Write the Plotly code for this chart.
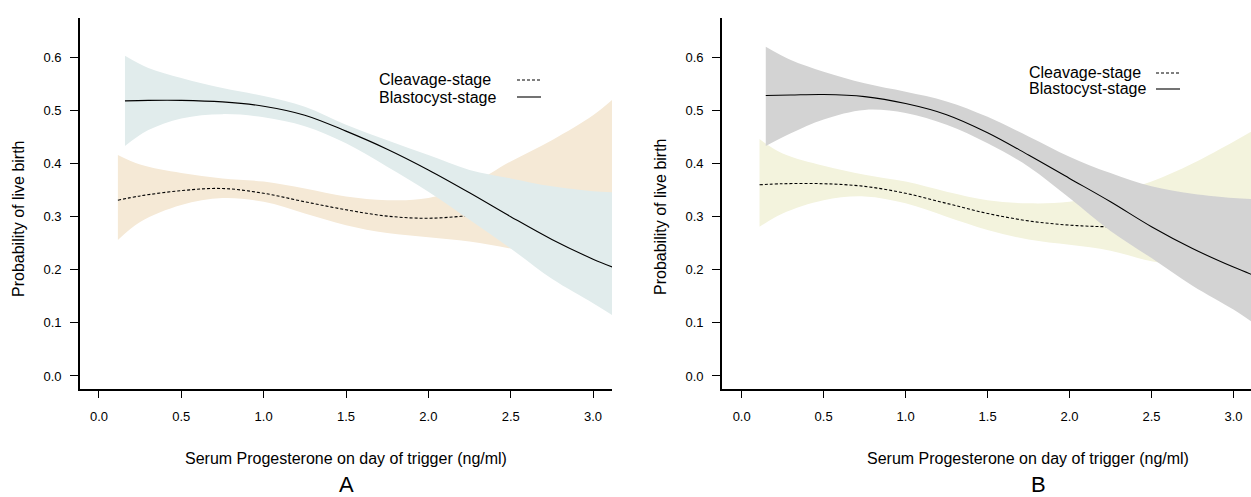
import plotly.graph_objects as go

W, H = 1251, 497

# ---------------- data ----------------
# Panel A
xA_cl = [0.115, 0.25, 0.5, 0.75, 1.0, 1.25, 1.5, 1.75, 2.0, 2.25, 2.5, 2.75, 3.0, 3.12]
cl_A = [0.331, 0.339, 0.349, 0.353, 0.344, 0.328, 0.313, 0.301, 0.297, 0.302, 0.31, 0.318, 0.326, 0.33]
cl_A_hi = [0.416, 0.398, 0.382, 0.372, 0.366, 0.353, 0.338, 0.331, 0.335, 0.360, 0.404, 0.444, 0.491, 0.521]
cl_A_lo = [0.256, 0.290, 0.322, 0.335, 0.328, 0.306, 0.284, 0.269, 0.261, 0.253, 0.240, 0.228, 0.215, 0.21]

xA_bl = [0.158, 0.3, 0.5, 0.75, 1.0, 1.25, 1.5, 1.75, 2.0, 2.25, 2.5, 2.75, 3.0, 3.12]
bl_A = [0.518, 0.519, 0.519, 0.516, 0.508, 0.491, 0.461, 0.427, 0.388, 0.345, 0.300, 0.257, 0.220, 0.205]
bl_A_hi = [0.603, 0.580, 0.561, 0.542, 0.527, 0.507, 0.473, 0.444, 0.416, 0.388, 0.372, 0.357, 0.348, 0.346]
bl_A_lo = [0.433, 0.463, 0.485, 0.493, 0.487, 0.470, 0.438, 0.394, 0.347, 0.294, 0.240, 0.183, 0.137, 0.114]

# Panel B
xB_cl = [0.109, 0.25, 0.5, 0.75, 1.0, 1.25, 1.5, 1.75, 2.0, 2.25, 2.5, 2.75, 3.0, 3.12]
cl_B = [0.360, 0.362, 0.362, 0.357, 0.344, 0.325, 0.306, 0.292, 0.284, 0.281, 0.283, 0.287, 0.292, 0.295]
cl_B_hi = [0.446, 0.419, 0.396, 0.379, 0.366, 0.347, 0.331, 0.325, 0.328, 0.344, 0.366, 0.400, 0.441, 0.462]
cl_B_lo = [0.281, 0.306, 0.331, 0.338, 0.325, 0.300, 0.275, 0.257, 0.247, 0.236, 0.216, 0.205, 0.195, 0.19]

xB_bl = [0.147, 0.3, 0.5, 0.75, 1.0, 1.25, 1.5, 1.75, 2.0, 2.25, 2.5, 2.75, 3.0, 3.12]
bl_B = [0.528, 0.529, 0.530, 0.526, 0.513, 0.492, 0.458, 0.416, 0.372, 0.328, 0.281, 0.240, 0.205, 0.190]
bl_B_hi = [0.620, 0.595, 0.573, 0.551, 0.535, 0.517, 0.488, 0.451, 0.413, 0.382, 0.357, 0.343, 0.335, 0.333]
bl_B_lo = [0.433, 0.457, 0.483, 0.501, 0.495, 0.473, 0.438, 0.394, 0.335, 0.273, 0.222, 0.170, 0.125, 0.100]

y_ticks = [0.0, 0.1, 0.2, 0.3, 0.4, 0.5, 0.6]
x_ticks = [0.0, 0.5, 1.0, 1.5, 2.0, 2.5, 3.0]
series_names = ["Cleavage-stage", "Blastocyst-stage"]
x_title = "Serum Progesterone on day of trigger (ng/ml)"
y_title = "Probability of live birth"
panel_labels = ["A", "B"]

# ---------------- styling ----------------
FONT = "Liberation Sans, Arial, Helvetica, sans-serif"
colA_cl, colA_bl = "#f5e9d6", "#e1ecec"
colB_cl, colB_bl = "#f3f3dd", "#d3d3d3"
DASH = "3px,2px"

fig = go.Figure()


def add_band(x, lo, hi, color, xa, ya):
    fig.add_trace(go.Scatter(x=x, y=lo, mode="lines", line=dict(width=0, shape="spline", color=color),
                             xaxis=xa, yaxis=ya, showlegend=False, hoverinfo="skip"))
    fig.add_trace(go.Scatter(x=x, y=hi, mode="lines", line=dict(width=0, shape="spline", color=color),
                             fill="tonexty", fillcolor=color,
                             xaxis=xa, yaxis=ya, showlegend=False, hoverinfo="skip"))


def add_line(x, y, dash, xa, ya, name):
    fig.add_trace(go.Scatter(x=x, y=y, mode="lines", name=name,
                             line=dict(color="black", width=1.1, dash=dash, shape="spline"),
                             xaxis=xa, yaxis=ya, showlegend=False))


# Panel A
add_band(xA_cl, cl_A_lo, cl_A_hi, colA_cl, "x", "y")
add_line(xA_cl, cl_A, DASH, "x", "y", series_names[0])
add_band(xA_bl, bl_A_lo, bl_A_hi, colA_bl, "x", "y")
add_line(xA_bl, bl_A, "solid", "x", "y", series_names[1])

# Panel B
add_band(xB_cl, cl_B_lo, cl_B_hi, colB_cl, "x2", "y2")
add_line(xB_cl, cl_B, DASH, "x2", "y2", series_names[0])
add_band(xB_bl, bl_B_lo, bl_B_hi, colB_bl, "x2", "y2")
add_line(xB_bl, bl_B, "solid", "x2", "y2", series_names[1])


def px_x(p):
    return p / W


def px_y(p):
    return 1 - p / H


y_dom = [px_y(389), px_y(18)]
y_rng = [-0.0245, 0.674]

common_x = dict(tickvals=x_ticks, ticktext=[f"{v:.1f}" for v in x_ticks], ticks="outside", ticklen=7,
                tickwidth=1, tickcolor="black", showline=True, linecolor="black", linewidth=1.6,
                showgrid=False, zeroline=False, tickfont=dict(family=FONT, size=13, color="black"),
                ticklabelstandoff=8)
common_y = dict(tickvals=y_ticks, ticktext=[f"{v:.1f}" for v in y_ticks], ticks="outside", ticklen=8,
                tickwidth=1, tickcolor="black", showline=True, linecolor="black", linewidth=1.6,
                showgrid=False, zeroline=False, tickfont=dict(family=FONT, size=13, color="black"),
                range=y_rng, domain=y_dom, ticklabelstandoff=6)

fig.update_layout(
    width=W, height=H, margin=dict(l=0, r=0, t=0, b=0),
    paper_bgcolor="white", plot_bgcolor="white", showlegend=False,
    font=dict(family=FONT, color="black"),
    xaxis=dict(domain=[px_x(80), px_x(612)], range=[-0.115, 3.115], anchor="y", **common_x),
    yaxis=dict(anchor="x", **common_y),
    xaxis2=dict(domain=[px_x(722), 1.0], range=[-0.120, 3.107], anchor="y2", **common_x),
    yaxis2=dict(anchor="x2", **common_y),
)

ann = []
shapes = []
# legends (text on left, key on right)
for (tx, lx0, lx1, y1, y2) in [(377, 517, 541, 80, 97), (1027, 1156, 1180, 73, 89)]:
    for name, yy, dash in [(series_names[0], y1, DASH), (series_names[1], y2, "solid")]:
        ann.append(dict(text=name, x=px_x(tx), y=px_y(yy), xref="paper", yref="paper",
                        xanchor="left", yanchor="middle", showarrow=False,
                        font=dict(family=FONT, size=16, color="black")))
        shapes.append(dict(type="line", xref="paper", yref="paper", x0=px_x(lx0), x1=px_x(lx1),
                           y0=px_y(yy), y1=px_y(yy), line=dict(color="black", width=1.1, dash=dash)))

# axis titles and panel labels
for (ytx, yty, xtx, lab_x, lab) in [(18, 219, 346, 346, panel_labels[0]), (660, 217, 1028, 1038, panel_labels[1])]:
    ann.append(dict(text=y_title, x=px_x(ytx), y=px_y(yty), xref="paper", yref="paper", textangle=-90,
                    xanchor="center", yanchor="middle", showarrow=False,
                    font=dict(family=FONT, size=16, color="black")))
    ann.append(dict(text=x_title, x=px_x(xtx), y=px_y(458), xref="paper", yref="paper",
                    xanchor="center", yanchor="middle", showarrow=False,
                    font=dict(family=FONT, size=16, color="black")))
    ann.append(dict(text=lab, x=px_x(lab_x), y=px_y(484), xref="paper", yref="paper",
                    xanchor="center", yanchor="middle", showarrow=False,
                    font=dict(family=FONT, size=22, color="black")))

fig.update_layout(annotations=ann, shapes=shapes)
fig.write_html("out.html", config={"displayModeBar": False},
               post_script="document.body.style.margin='0px';document.body.style.overflow='hidden';")
